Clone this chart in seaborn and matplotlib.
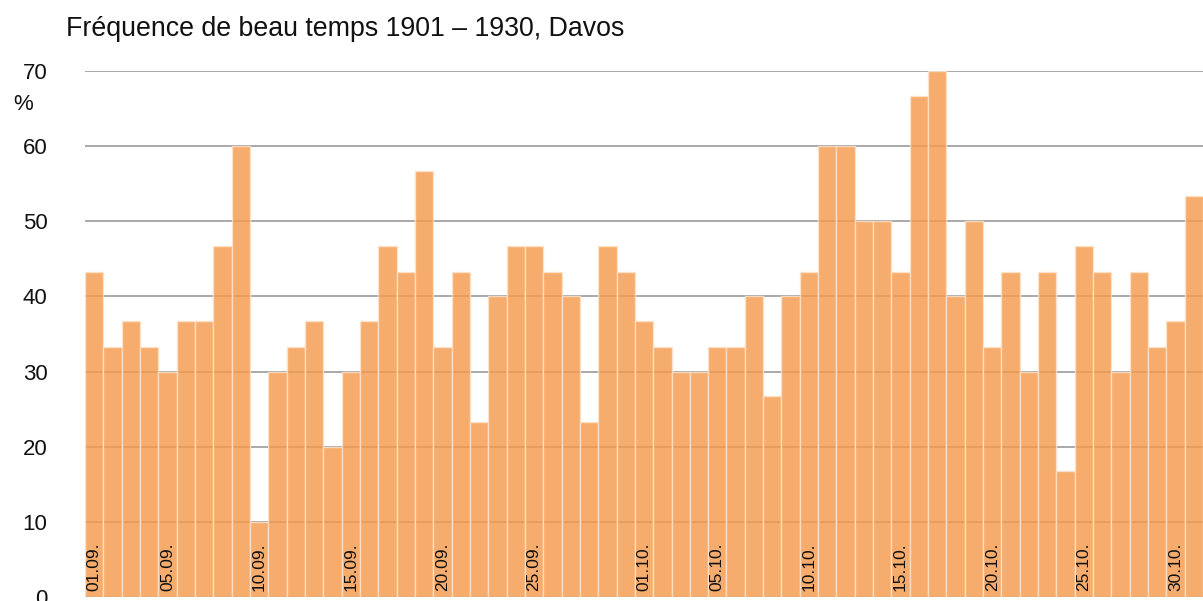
import matplotlib
matplotlib.use('Agg')
import matplotlib.pyplot as plt
import seaborn as sns
import pandas as pd

# daily frequency of fair weather (%), 01.09. - 31.10.
days_sep = ['%02d.09.' % d for d in range(1, 31)]
days_oct = ['%02d.10.' % d for d in range(1, 32)]
days = days_sep + days_oct

values_sep = [43.3, 33.3, 36.7, 33.3, 30.0, 36.7, 36.7, 46.7, 60.0, 10.0,
              30.0, 33.3, 36.7, 20.0, 30.0, 36.7, 46.7, 43.3, 56.7, 33.3,
              43.3, 23.3, 40.0, 46.7, 46.7, 43.3, 40.0, 23.3, 46.7, 43.3]
values_oct = [36.7, 33.3, 30.0, 30.0, 33.3, 33.3, 40.0, 26.7, 40.0, 43.3,
              60.0, 60.0, 50.0, 50.0, 43.3, 66.7, 70.0, 40.0, 50.0, 33.3,
              43.3, 30.0, 43.3, 16.7, 46.7, 43.3, 30.0, 43.3, 33.3, 36.7,
              53.3]
values = values_sep + values_oct

tick_labels = ['01.09.', '05.09.', '10.09.', '15.09.', '20.09.', '25.09.',
               '01.10.', '05.10.', '10.10.', '15.10.', '20.10.', '25.10.',
               '30.10.']
y_ticks = [0, 10, 20, 30, 40, 50, 60, 70]

df = pd.DataFrame({'jour': days, 'freq': values})

sns.set_style('white')
plt.rcParams['font.family'] = ['Liberation Sans', 'DejaVu Sans']

fig = plt.figure(figsize=(12.03, 6.01), dpi=100)
ax = fig.add_axes([0.0707, 0.0067, 0.9293, 0.8752])

sns.barplot(data=df, x='jour', y='freq', order=days, color='#f59a4c',
            saturation=1, width=1.0, alpha=0.82, edgecolor='#fde3cc',
            linewidth=1.0, errorbar=None, ax=ax)

ax.set_ylim(0, 70)
ax.set_xlim(-0.5, len(days) - 0.5)
ax.set_yticks(y_ticks)
ax.yaxis.grid(True, color='#a3a3a3', linewidth=1.3)
ax.set_axisbelow(True)
for s in ax.spines.values():
    s.set_visible(False)

ax.tick_params(axis='y', length=14, width=1.3, color='#a3a3a3', pad=13,
               labelsize=16, labelcolor='#111111')

ax.set_xticks([days.index(t) for t in tick_labels])
ax.set_xticklabels(tick_labels, rotation=90, fontsize=12.5, color='#111111')
ax.tick_params(axis='x', length=0, pad=-4)
for lbl in ax.get_xticklabels():
    lbl.set_verticalalignment('bottom')
ax.xaxis.set_zorder(5)

ax.set_xlabel('')
ax.set_ylabel('')

fig.text(0.0549, 0.952, 'Fréquence de beau temps 1901 \u2013 1930, Davos',
         fontsize=19.3, ha='left', va='center', color='#111111')
fig.text(0.0108, 0.826, '%', fontsize=16, ha='left', va='center',
         color='#111111')

fig.savefig('out.png', dpi=100)
